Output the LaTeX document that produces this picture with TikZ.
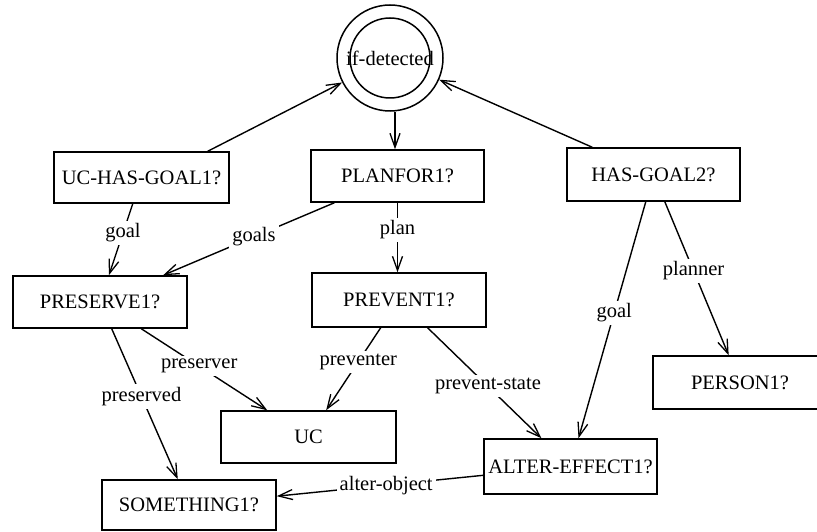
\documentclass[tikz,border=0pt]{standalone}
\usepackage{fontspec}
\setmainfont{Liberation Serif}
\usetikzlibrary{arrows.meta}

\begin{document}
\begin{tikzpicture}[x=1pt,y=-1pt,
  font=\fontsize{20.5}{24}\selectfont,
  frame/.style={draw, line width=1.5pt, rectangle, minimum width=174pt, minimum height=52pt, inner sep=0pt},
  ring/.style={draw, line width=1.5pt, circle, inner sep=0pt},
  link/.style={line width=1.4pt, -{Straight Barb[length=14pt,width=10pt,line width=1.3pt]}},
  tag/.style={fill=white, inner sep=3pt}]
  \useasboundingbox (0,0) rectangle (817,532);

  % trigger
  \node[ring, minimum size=106pt] (ifd) at (390,58) {};
  \node[ring, minimum size=80pt] (ifdin) at (390,58) {};
  \node (ifdtext) at (390,58) {if-detected};

  % first row
  \node[frame, minimum width=175pt, minimum height=51pt] (ucg) at (141.5,177.5) {UC-HAS-GOAL1?};
  \node[frame, minimum width=173pt] (plan) at (397.5,176) {PLANFOR1?};
  \node[frame, minimum width=173pt, minimum height=53pt] (hg2) at (653.5,174.5) {HAS-GOAL2?};

  % second row
  \node[frame] (pres) at (100,302) {PRESERVE1?};
  \node[frame, minimum height=54pt] (prev) at (399,300) {PREVENT1?};
  \node[frame, minimum height=53pt] (person) at (740,382.5) {PERSON1?};

  % bottom rows
  \node[frame, minimum width=175pt] (uc) at (308.5,437) {UC};
  \node[frame, minimum width=173pt, minimum height=55pt] (alter) at (570.5,466.5) {ALTER-EFFECT1?};
  \node[frame, minimum height=50pt] (some) at (189,505) {SOMETHING1?};

  % links into and out of the trigger
  \draw[link] ([xshift=-22pt]ucg.north east) -- (ifd);
  \draw[link] ([xshift=26pt]hg2.north west) -- (ifd);
  \draw[link] ([xshift=5pt]ifd.south) -- ([xshift=-2.5pt]plan.north);

  % labelled slots
  \draw[link] (ucg) -- node[tag, pos=0.41] {goal} (pres);
  \draw[link] (plan) -- node[tag, pos=0.47] {goals} (pres);
  \draw[link] (plan) -- node[tag, pos=0.39] {plan} (plan |- prev.north);
  \draw[link] (hg2) -- node[tag, pos=0.47] {goal} (alter);
  \draw[link] (hg2) -- node[tag, pos=0.45] {planner} (person);
  \draw[link] (pres) -- node[tag, pos=0.46] {preserver} (uc);
  \draw[link] (pres) -- node[tag, pos=0.45] {preserved} (some);
  \draw[link] (prev) -- node[tag, pos=0.41] {preventer} (uc);
  \draw[link] (prev) -- node[tag, pos=0.53] {prevent-state} (alter);
  \draw[link] (alter) -- node[tag, pos=0.47] {alter-object} (some);
\end{tikzpicture}
\end{document}
